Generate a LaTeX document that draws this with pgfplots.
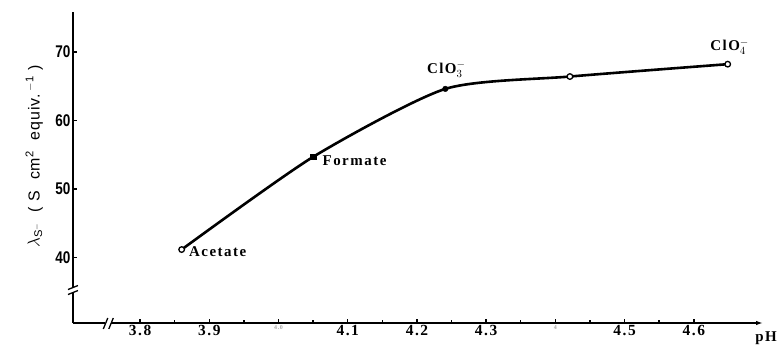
\documentclass[border=0pt]{standalone}
\usepackage{fontspec}
\setmainfont{Liberation Serif}
\setsansfont{Liberation Sans}
\newfontfamily\lblfont[LetterSpace=10]{Liberation Serif}
\newfontfamily\ytfont[FakeStretch=0.8]{Liberation Sans}
\newfontfamily\ylfont[LetterSpace=6]{Liberation Sans}
\usepackage{pgfplots}
\usepackage{pgfplotstable}
\pgfplotsset{compat=1.18}
\usetikzlibrary{arrows.meta,calc}

\pgfplotstableread{
x y
3.860 41.2
4.050 54.7
4.241 64.6
4.421 66.4
4.649 68.2
}\curvetable
\pgfplotstableread{
x y
3.860 41.2
4.421 66.4
4.649 68.2
}\opentable
\pgfplotstableread{
x y
4.050 54.7
}\formatetable
\pgfplotstableread{
x y
4.241 64.6
}\chloratetable

\begin{document}
\begin{tikzpicture}
\begin{axis}[
  at={(0,0)}, anchor=south west,
  scale only axis, width=690bp, height=311bp,
  xmin=3.703, xmax=4.70, ymin=30.5, ymax=75.8,
  axis x line=bottom, axis y line=left,
  axis line style={line width=2.6bp},
  x axis line style={-{Latex[length=7bp,width=4.5bp]}},
  y axis line style={-},
  clip=false,
  xtick={3.8,3.9,4.0,4.1,4.2,4.3,4.4,4.5,4.6},
  xticklabels={3.8,3.9,{\textcolor{black!35}{\fontsize{6}{7}\selectfont 4.0}},4.1,4.2,4.3,{\textcolor{black!35}{\fontsize{6}{7}\selectfont 4}},4.5,4.6},
  minor xtick={3.85,3.95,4.05,4.15,4.25,4.35,4.45,4.55},
  ytick={40,50,60,70},
  yticklabels={40,50,60,70},
  tick align=inside,
  major tick length=4bp, minor tick length=3bp,
  every tick/.style={black, line width=1.4bp},
  xticklabel style={font=\lblfont\fontsize{15.5}{17}\selectfont\bfseries, anchor=north, yshift=-1bp},
  yticklabel style={font=\ytfont\fontsize{17}{19}\selectfont\bfseries, anchor=east, xshift=1bp},
  x tick label style={inner sep=1bp},
  ylabel={$\lambda_{\mathsf{S}^-}$\ \ ( S\ \ cm$^{\mathsf{2}}$\ \ equiv.\,$^{-\mathsf{1}}$\ )},
  ylabel style={font=\ylfont\fontsize{16}{18}\selectfont, at={(ticklabel cs:0.535)}, anchor=south, inner sep=0pt},
  ylabel shift=9bp,
]
\addplot[line width=2.6bp, smooth, tension=0.4, black] table[x=x,y=y] {\curvetable};
\addplot[only marks, mark=*, mark size=2.8bp, mark options={fill=white, draw=black, line width=1.3bp}] table[x=x,y=y] {\opentable};
\addplot[only marks, mark=square*, mark size=2.6bp, mark options={fill=black, draw=black}] table[x=x,y=y] {\formatetable};
\addplot[only marks, mark=*, mark size=2.8bp, mark options={fill=black, draw=black}] table[x=x,y=y] {\chloratetable};

% labels
\node[anchor=west, font=\lblfont\fontsize{15}{17}\selectfont\bfseries] at ($(axis cs:3.860,41.2)+(4bp,-2bp)$) {Acetate};
\node[anchor=west, font=\lblfont\fontsize{15}{17}\selectfont\bfseries] at ($(axis cs:4.050,54.7)+(6bp,-4bp)$) {Formate};
\node[anchor=south, font=\lblfont\fontsize{15}{17}\selectfont\bfseries] at ($(axis cs:4.241,64.6)+(1bp,8bp)$) {ClO$_3^-$};
\node[anchor=south, font=\lblfont\fontsize{15}{17}\selectfont\bfseries] at ($(axis cs:4.649,68.2)+(2bp,6bp)$) {ClO$_4^-$};
\node[anchor=base east, font=\lblfont\fontsize{15}{17}\selectfont\bfseries, inner sep=0pt] at ($(rel axis cs:1,0)+(14bp,-18bp)$) {pH};

% axis breaks
\fill[white] ($(axis cs:3.754,30.5)+(-3bp,-3bp)$) rectangle ($(axis cs:3.754,30.5)+(3bp,3bp)$);
\draw[line width=1.3bp] ($(axis cs:3.754,30.5)+(-5bp,-6bp)$) -- ++(4.5bp,11bp);
\draw[line width=1.3bp] ($(axis cs:3.754,30.5)+(0.5bp,-6bp)$) -- ++(4.5bp,11bp);
\fill[white] ($(axis cs:3.703,35.3)+(-3bp,-3bp)$) rectangle ($(axis cs:3.703,35.3)+(3bp,3bp)$);
\draw[line width=1.3bp] ($(axis cs:3.703,35.3)+(-5bp,-4.5bp)$) -- ++(10bp,4bp);
\draw[line width=1.3bp] ($(axis cs:3.703,35.3)+(-5bp,0.5bp)$) -- ++(10bp,4bp);
\end{axis}
\pgfresetboundingbox
\path[use as bounding box] (-73bp,-23bp) rectangle (704bp,323bp);
\end{tikzpicture}
\end{document}
